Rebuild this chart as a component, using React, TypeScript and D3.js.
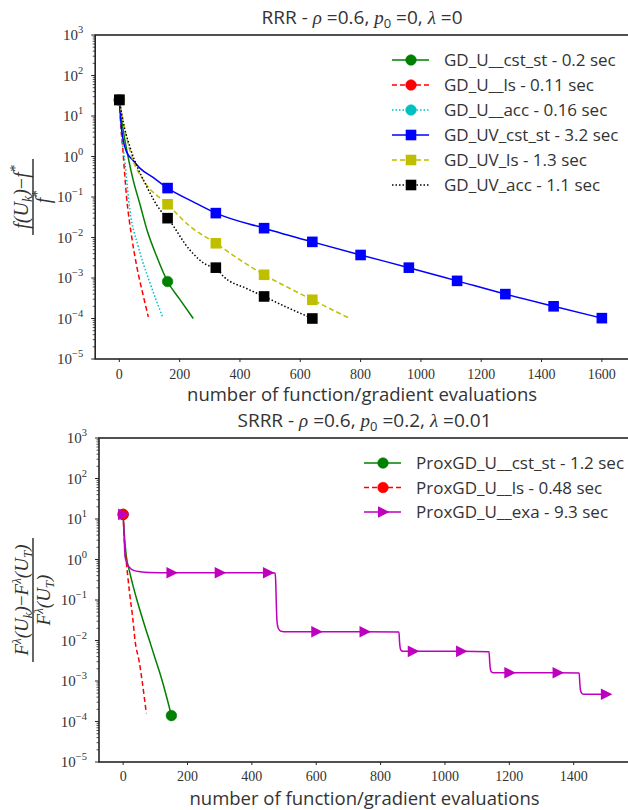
import React from 'react';
import * as d3 from 'd3';

// ---------------- data: top panel (RRR) ----------------
const topXTicks = [0, 200, 400, 600, 800, 1000, 1200, 1400, 1600];
const gdUCstX = [0, 5, 13, 30, 46, 70, 91, 124, 160, 200, 245];
const gdUCstY = [25, 11, 4.4, 0.9, 0.26, 0.06, 0.016, 0.0034, 8.2e-4, 3e-4, 1e-4];
const gdULsX = [0, 4, 11, 24, 41, 58, 80, 96];
const gdULsY = [25, 7, 1.7, 0.1, 0.0104, 0.0019, 3.5e-4, 1.1e-4];
const gdUAccX = [0, 6, 19, 35, 63, 102, 144];
const gdUAccY = [25, 5, 0.68, 0.048, 0.0059, 7.4e-4, 1.07e-4];
const gdUVCstX = [0, 8, 24, 46, 69, 113, 160, 245, 320, 480, 640, 800, 960, 1120, 1280, 1440, 1600];
const gdUVCstY = [25, 4.5, 1.3, 0.8, 0.51, 0.3, 0.166, 0.076, 0.04, 0.017, 0.0078, 0.0037, 0.0018, 8.5e-4, 4e-4, 2e-4, 1.02e-4];
const gdUVLsX = [0, 15, 41, 80, 160, 234, 320, 400, 480, 566, 640, 709, 765];
const gdUVLsY = [25, 6, 1, 0.26, 0.066, 0.019, 0.0072, 0.0028, 0.0012, 5.5e-4, 2.9e-4, 1.6e-4, 1e-4];
const gdUVAccX = [0, 15, 35, 91, 135, 160, 234, 290, 320, 345, 422, 480, 555, 640];
const gdUVAccY = [25, 6, 1.74, 0.18, 0.048, 0.03, 0.0049, 0.0021, 0.0018, 0.0011, 5.5e-4, 3.5e-4, 1.9e-4, 1e-4];

// ---------------- data: bottom panel (SRRR) ----------------
const botXTicks = [0, 200, 400, 600, 800, 1000, 1200, 1400];
const proxCstX = [0, 5, 10, 20, 40, 60, 80, 100, 120, 150];
const proxCstY = [13, 3, 1.2, 0.5, 0.12, 0.035, 0.011, 0.0035, 0.0011, 1.4e-4];
const proxLsX = [0, 5, 9, 20, 30, 37, 50, 59, 72];
const proxLsY = [13, 2, 1, 0.15, 0.035, 0.01, 0.003, 0.001, 1.6e-4];
const proxExaX = [0, 3, 6, 12, 22, 35, 53, 80, 150, 300, 450, 472, 474, 476, 478, 482, 490, 510, 600, 750, 857, 859, 861, 864, 870, 900, 1050, 1137, 1139, 1141, 1144, 1150, 1200, 1350, 1417, 1419, 1421, 1425, 1432, 1500];
const proxExaY = [13, 4, 1.17, 0.8, 0.61, 0.53, 0.5, 0.48, 0.472, 0.472, 0.472, 0.465, 0.3, 0.08, 0.03, 0.02, 0.017, 0.0165, 0.0165, 0.0165, 0.0163, 0.009, 0.0065, 0.0057, 0.0054, 0.0054, 0.0054, 0.0053, 0.003, 0.002, 0.0017, 0.0016, 0.0016, 0.0016, 0.00158, 0.0009, 0.0006, 0.0005, 0.00047, 0.00047];

const SANS = "'Open Sans', Lato, 'DejaVu Sans', sans-serif";
const SERIF = "'Liberation Serif', 'DejaVu Serif', serif";
const INK = '#262626';
const TXT = '#333333';

type MarkerKind = 'circle' | 'square' | 'tri';
type Series = {
  label: string;
  xs: number[];
  ys: number[];
  color: string;
  dash?: string;
  marker: MarkerKind;
  every: number;
};

const topSeries: Series[] = [
  { label: 'GD_U__cst_st - 0.2 sec', xs: gdUCstX, ys: gdUCstY, color: '#008000', marker: 'circle', every: 160 },
  { label: 'GD_U__ls - 0.11 sec', xs: gdULsX, ys: gdULsY, color: '#ff0000', dash: '5,3', marker: 'circle', every: 160 },
  { label: 'GD_U__acc - 0.16 sec', xs: gdUAccX, ys: gdUAccY, color: '#00bfbf', dash: '1.5,2', marker: 'circle', every: 160 },
  { label: 'GD_UV_cst_st - 3.2 sec', xs: gdUVCstX, ys: gdUVCstY, color: '#0000ff', marker: 'square', every: 160 },
  { label: 'GD_UV_ls - 1.3 sec', xs: gdUVLsX, ys: gdUVLsY, color: '#bfbf00', dash: '5,3', marker: 'square', every: 160 },
  { label: 'GD_UV_acc - 1.1 sec', xs: gdUVAccX, ys: gdUVAccY, color: '#000000', dash: '1.5,2', marker: 'square', every: 160 },
];

const botSeries: Series[] = [
  { label: 'ProxGD_U__cst_st - 1.2 sec', xs: proxCstX, ys: proxCstY, color: '#008000', marker: 'circle', every: 150 },
  { label: 'ProxGD_U__ls - 0.48 sec', xs: proxLsX, ys: proxLsY, color: '#ff0000', dash: '5,3', marker: 'circle', every: 150 },
  { label: 'ProxGD_U__exa - 9.3 sec', xs: proxExaX, ys: proxExaY, color: '#bf00bf', marker: 'tri', every: 150 },
];

function Marker({ kind, x, y, color }: { kind: MarkerKind; x: number; y: number; color: string }) {
  if (kind === 'circle') return <circle cx={x} cy={y} r={5.3} fill={color} stroke={color} strokeWidth={0.6} />;
  if (kind === 'square') return <rect x={x - 5.3} y={y - 5.3} width={10.6} height={10.6} fill={color} />;
  return <path d={`M${x - 5},${y - 5.8}L${x + 6.5},${y}L${x - 5},${y + 5.8}Z`} fill={color} />;
}

type PanelProps = {
  left: number; right: number; top: number; bottom: number;
  xDomain: [number, number]; xTicks: number[];
  series: Series[];
  legendX: number; legendY: number; legendDy: number;
  title: React.ReactNode; titleY: number;
  xlabelY: number; xtickY: number;
  ylabel: React.ReactNode;
};

function Panel(p: PanelProps) {
  const x = d3.scaleLinear().domain(p.xDomain).range([p.left, p.right]);
  const y = d3.scaleLog().domain([1e-5, 1e3]).range([p.bottom, p.top]);
  const line = d3.line<[number, number]>().x(d => x(d[0])).y(d => y(d[1])).curve(d3.curveMonotoneX);
  const majors = d3.range(-5, 4);
  const minors: number[] = [];
  for (let e = -5; e < 3; e++) for (let m = 2; m <= 9; m++) minors.push(m * Math.pow(10, e));
  const cxAxes = (p.left + p.right) / 2;
  return (
    <g>
      <text x={cxAxes} y={p.titleY} textAnchor="middle" fontFamily={SANS} fontSize={19} fill={TXT}>{p.title}</text>
      {p.series.map((s, i) => {
        const pts = s.xs.map((v, j) => [v, s.ys[j]] as [number, number]);
        return (
          <path key={'l' + i} d={line(pts) || ''} fill="none" stroke={s.color} strokeWidth={1.5} strokeDasharray={s.dash} />
        );
      })}
      {p.series.map((s, i) => (
        <g key={'m' + i}>
          {s.xs.map((v, j) => (v % s.every === 0 ? <Marker key={j} kind={s.marker} x={x(v)} y={y(s.ys[j])} color={s.color} /> : null))}
        </g>
      ))}
      <rect x={p.left} y={p.top} width={p.right - p.left} height={p.bottom - p.top} fill="none" stroke={INK} strokeWidth={1.6} />
      {p.xTicks.map(t => (
        <g key={'xt' + t}>
          <line x1={x(t)} x2={x(t)} y1={p.bottom} y2={p.bottom + 3} stroke={INK} strokeWidth={1} />
          <text x={x(t)} y={p.xtickY} textAnchor="middle" fontFamily={SERIF} fontSize={14} fill={TXT}>{t}</text>
        </g>
      ))}
      {majors.map(e => (
        <g key={'ym' + e}>
          <line x1={p.left - 4} x2={p.left} y1={y(Math.pow(10, e))} y2={y(Math.pow(10, e))} stroke={INK} strokeWidth={1} />
          <text x={p.left - 12} y={y(Math.pow(10, e)) + 5} textAnchor="end" fontFamily={SERIF} fontSize={15} fill={TXT}>
            10<tspan dy={-7} fontSize={10.5}>{e < 0 ? '\u2212' + (-e) : String(e)}</tspan>
          </text>
        </g>
      ))}
      {minors.map((v, i) => (
        <line key={'yn' + i} x1={p.left - 2.5} x2={p.left} y1={y(v)} y2={y(v)} stroke={INK} strokeWidth={0.8} />
      ))}
      <text x={cxAxes} y={p.xlabelY} textAnchor="middle" fontFamily={SANS} fontSize={18.5} fill={TXT}>number of function/gradient evaluations</text>
      {p.ylabel}
      {p.series.map((s, i) => {
        const ly = p.legendY + i * p.legendDy;
        return (
          <g key={'lg' + i}>
            <line x1={p.legendX} x2={p.legendX + 37} y1={ly} y2={ly} stroke={s.color} strokeWidth={1.5} strokeDasharray={s.dash} />
            <Marker kind={s.marker} x={p.legendX + 19} y={ly} color={s.color} />
            <text x={p.legendX + 52} y={ly + 6} fontFamily={SANS} fontSize={17} fill={TXT}>{s.label}</text>
          </g>
        );
      })}
    </g>
  );
}

const it = { fontFamily: SERIF, fontStyle: 'italic' } as const;

function TopTitle() {
  return (
    <>
      RRR - <tspan {...it}>ρ</tspan> =0.6, <tspan {...it}>p</tspan><tspan fontSize={13} dy={4}>0</tspan><tspan dy={-4}> =0, </tspan><tspan {...it}>λ</tspan> =0
    </>
  );
}
function BotTitle() {
  return (
    <>
      SRRR - <tspan {...it}>ρ</tspan> =0.6, <tspan {...it}>p</tspan><tspan fontSize={13} dy={4}>0</tspan><tspan dy={-4}> =0.2, </tspan><tspan {...it}>λ</tspan> =0.01
    </>
  );
}

function TopYLabel() {
  return (
    <g transform="translate(33,197) rotate(-90)">
      <text x={0} y={-5} textAnchor="middle" fontFamily={SERIF} fontSize={20} fill={TXT} fontStyle="italic">
        f(U<tspan fontSize={14} dy={4}>k</tspan><tspan dy={-4}>)</tspan><tspan fontStyle="normal">−</tspan>f<tspan fontSize={14} dy={-8}>*</tspan>
      </text>
      <line x1={-38} x2={38} y1={0} y2={0} stroke={INK} strokeWidth={1.4} />
      <text x={0} y={17} textAnchor="middle" fontFamily={SERIF} fontSize={20} fill={TXT} fontStyle="italic">
        f<tspan fontSize={14} dy={-8}>*</tspan>
      </text>
    </g>
  );
}

function BotYLabel() {
  return (
    <g transform="translate(33,600) rotate(-90)">
      <text x={0} y={-5} textAnchor="middle" fontFamily={SERIF} fontSize={19} fill={TXT} fontStyle="italic">
        F<tspan fontSize={13} dy={-7}>λ</tspan><tspan dy={7}>(U</tspan><tspan fontSize={13} dy={4}>k</tspan><tspan dy={-4}>)</tspan><tspan fontStyle="normal">−</tspan>F<tspan fontSize={13} dy={-7}>λ</tspan><tspan dy={7}>(U</tspan><tspan fontSize={13} dy={4}>T</tspan><tspan dy={-4}>)</tspan>
      </text>
      <line x1={-62} x2={62} y1={0} y2={0} stroke={INK} strokeWidth={1.4} />
      <text x={0} y={17} textAnchor="middle" fontFamily={SERIF} fontSize={19} fill={TXT} fontStyle="italic">
        F<tspan fontSize={13} dy={-7}>λ</tspan><tspan dy={7}>(U</tspan><tspan fontSize={13} dy={4}>T</tspan><tspan dy={-4}>)</tspan>
      </text>
    </g>
  );
}

export default function App() {
  return (
    <svg width={628} height={810} style={{ position: 'absolute', left: 0, top: 0, background: '#fff' }}>
      <rect x={0} y={0} width={628} height={810} fill="#fff" />
      <Panel left={95.2} right={629} top={35} bottom={359} xDomain={[-80, 1690]} xTicks={topXTicks}
        series={topSeries} legendX={392} legendY={60} legendDy={25}
        title={<TopTitle />} titleY={24} xlabelY={401} xtickY={379} ylabel={<TopYLabel />} />
      <Panel left={99} right={630} top={438} bottom={762} xDomain={[-75, 1575]} xTicks={botXTicks}
        series={botSeries} legendX={364} legendY={463} legendDy={24.5}
        title={<BotTitle />} titleY={427} xlabelY={805} xtickY={781} ylabel={<BotYLabel />} />
    </svg>
  );
}
